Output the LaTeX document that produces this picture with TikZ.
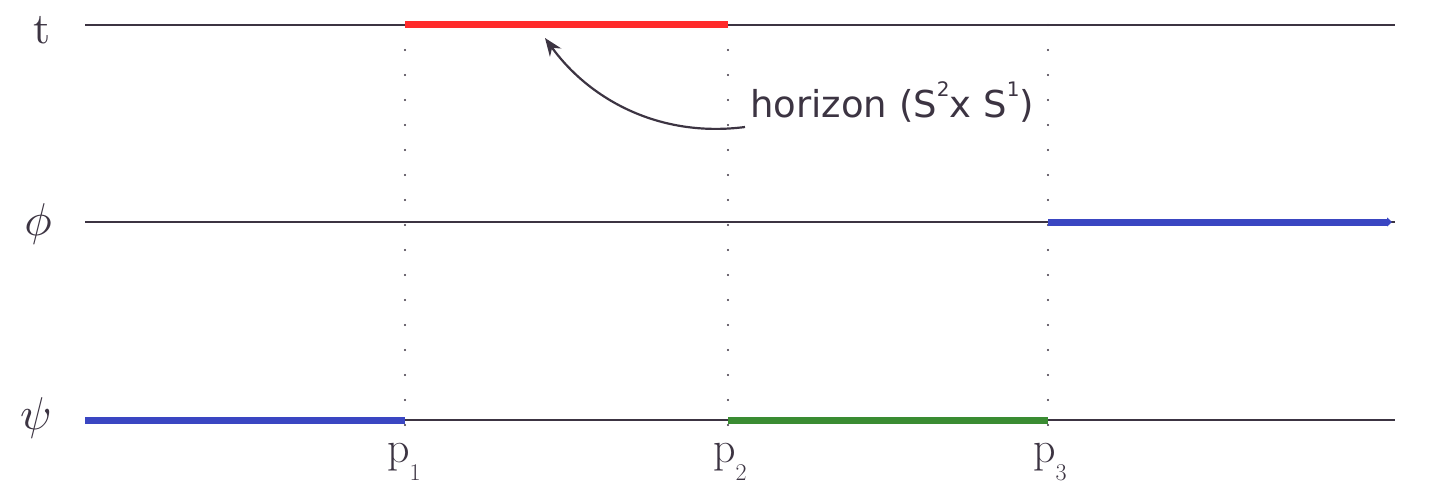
\documentclass[tikz,border=0pt]{standalone}
\usepackage{fontspec}
\usepackage{graphicx}
\newfontfamily\dvsans{DejaVu Sans}
\usetikzlibrary{arrows.meta}
\definecolor{axisc}{HTML}{3C3442}
\definecolor{redc}{HTML}{FF2B2B}
\definecolor{bluec}{HTML}{3A46C2}
\definecolor{greenc}{HTML}{3A8C32}
\tikzset{
  axis/.style={draw=axisc, line width=1.6pt},
  seg/.style={line width=7pt},
  guide/.style={draw=axisc, line width=2.2pt, line cap=round, dash pattern=on 0pt off 25pt},
  lab/.style={text=axisc, inner sep=0pt},
  plab/.style={font=\fontsize{44}{48}\selectfont, text=axisc, inner sep=0pt},
}
\begin{document}
\begin{tikzpicture}[x=1pt,y=-1pt]
\useasboundingbox (0,0) rectangle (1448,495);
% axis end points
\coordinate (tL) at (85,25);   \coordinate (tR) at (1395,25);
\coordinate (fL) at (85,222);  \coordinate (fR) at (1395,222);
\coordinate (sL) at (85,420);  \coordinate (sR) at (1395,420);
% points on axes
\coordinate (t1) at (405,25);  \coordinate (t2) at (728,25);  \coordinate (t3) at (1048,25);
\coordinate (f3) at (1048,222); \coordinate (fE) at (1392,222);
\coordinate (s1) at (405,420); \coordinate (s2) at (728,420); \coordinate (s3) at (1048,420);
\coordinate (b1) at (405,432); \coordinate (b2) at (728,432); \coordinate (b3) at (1048,432);
% dotted guides
\draw[guide] (t1) -- (b1);
\draw[guide] (t2) -- (b2);
\draw[guide] (t3) -- (b3);
% axes
\draw[axis] (tL) -- (tR);
\draw[axis] (fL) -- (fR);
\draw[axis] (sL) -- (sR);
% coloured segments
\draw[seg, redc] (t1) -- (t2);
\draw[seg, bluec, -{Triangle[length=5pt,width=9pt]}] (f3) -- (fE);
\draw[seg, bluec] (sL) -- (s1);
\draw[seg, greenc] (s2) -- (s3);
% labels
\node[lab] (lt) at (42,30) {\scalebox{4.4}{t}};
\node[lab] (lf) at (38,224) {\scalebox{4.6}{$\phi$}};
\node[lab] (ls) at (36,418) {\scalebox{4.6}{$\psi$}};
\node[plab, anchor=north] (p1) at (404,443) {p\raisebox{-0.4em}{\fontsize{24}{26}\selectfont 1}};
\node[plab, anchor=north] (p2) at (730,443) {p\raisebox{-0.4em}{\fontsize{24}{26}\selectfont 2}};
\node[plab, anchor=north] (p3) at (1050,443) {p\raisebox{-0.4em}{\fontsize{24}{26}\selectfont 3}};
% horizon label and arrow
\node[font=\dvsans\fontsize{37}{42}\selectfont, text=axisc, anchor=west, inner sep=0pt] (hz) at (750,102) {horizon (S\raisebox{0.55em}{\fontsize{20}{22}\selectfont 2}x S\raisebox{0.55em}{\fontsize{20}{22}\selectfont 1})};
\coordinate (hs) at (745,127);
\coordinate (ht) at (545,38);
\draw[draw=axisc, line width=2.2pt, -{Stealth[length=18pt,width=14pt]}] (hs) .. controls (660,138) and (590,100) .. (ht);
\end{tikzpicture}
\end{document}
